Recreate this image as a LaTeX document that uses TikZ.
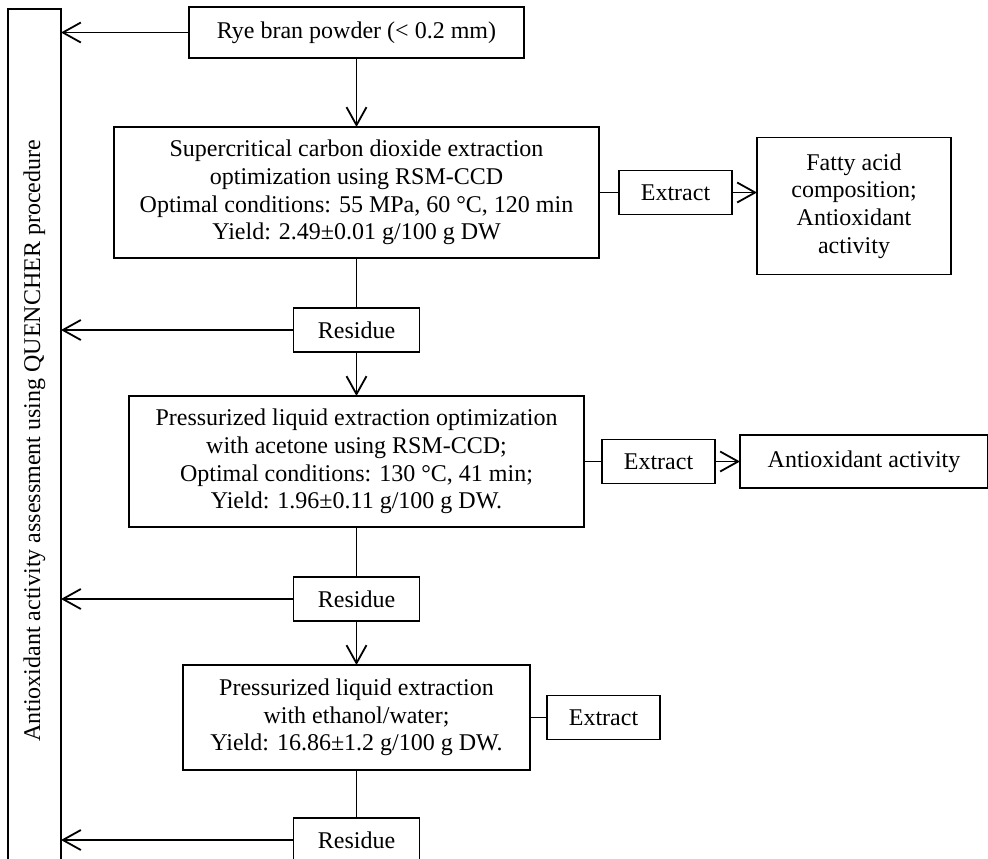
\documentclass[tikz,border=0pt]{standalone}
\usepackage{fontspec}
\setmainfont{Liberation Serif}
\usetikzlibrary{positioning, arrows.meta}

\begin{document}
\begin{tikzpicture}[
				x=0.5pt, y=-0.5pt,
				node distance=22pt and 10pt,
				mybox/.style={
					draw,
					rectangle,
					line width=0.9pt,
					outer sep=0pt,
					align=center,
					inner sep=2pt,
					font=\fontsize{12}{13.8}\selectfont
				},
				smallbox/.style={
					mybox,
					minimum width=56.5pt,
					minimum height=22pt
				},
				arrow/.style={
					->,
					line width=0.9pt,
					>={Straight Barb[length=9pt,width=10pt]}
				},
				line/.style={
					line width=0.9pt
				}
				]
				\useasboundingbox (0,0) rectangle (988,858);
				\clip (0,0) rectangle (988,858);
				\node[mybox, rotate=90, minimum width=432pt, minimum height=26.5pt] (quench) at (34.5,441) {Antioxidant activity assessment using QUENCHER procedure};
				\node[mybox, minimum width=167.5pt, minimum height=25.5pt] (rye) at (356.5,32.5) {Rye bran powder (< 0.2 mm)};
				\node[mybox, below=34.5pt of rye, minimum width=242.5pt, minimum height=65.5pt] (sce) {Supercritical carbon dioxide extraction\\optimization using RSM-CCD\\Optimal conditions: 55 MPa, 60 °C, 120 min\\Yield: 2.49±0.01 g/100 g DW};
				\node[smallbox, right=10pt of sce] (ext1) {Extract};
				\node[mybox, right=12.5pt of ext1, yshift=-6.75pt, minimum width=97pt, minimum height=68.5pt] (fatty) {Fatty acid\\composition;\\Antioxidant\\activity};
				\node[smallbox, below=25pt of sce, minimum width=63pt] (res1) {Residue};
				\node[mybox, below=22pt of res1, minimum width=227.5pt, minimum height=65.5pt] (ple1) {Pressurized liquid extraction optimization\\with acetone using RSM-CCD;\\Optimal conditions: 130 °C, 41 min;\\Yield: 1.96±0.11 g/100 g DW.};
				\node[smallbox, right=9pt of ple1] (ext2) {Extract};
				\node[mybox, right=12.5pt of ext2, minimum width=124pt, minimum height=26.5pt] (antiox) {Antioxidant activity};
				\node[smallbox, below=25pt of ple1, minimum width=63pt] (res2) {Residue};
				\node[mybox, below=22pt of res2, minimum width=173.5pt, minimum height=52.5pt] (ple2) {Pressurized liquid extraction\\with ethanol/water;\\Yield: 16.86±1.2 g/100 g DW.};
				\node[smallbox, right=8.5pt of ple2] (ext3) {Extract};
				\node[smallbox, below=24pt of ple2, minimum width=63pt] (res3) {Residue};
				\draw[arrow] (rye.west) -- (rye.west -| quench.south);
				\draw[arrow] (rye) -- (sce);
				\draw[line] (sce) -- (ext1);
				\draw[arrow] (ext1.east) -- (ext1.east -| fatty.west);
				\draw[line] (sce) -- (res1);
				\draw[arrow] (res1.west) -- (res1.west -| quench.south);
				\draw[arrow] (res1) -- (ple1);
				\draw[line] (ple1) -- (ext2);
				\draw[arrow] (ext2) -- (antiox);
				\draw[line] (ple1) -- (res2);
				\draw[arrow] (res2.west) -- (res2.west -| quench.south);
				\draw[arrow] (res2) -- (ple2);
				\draw[line] (ple2) -- (ext3);
				\draw[line] (ple2) -- (res3);
				\draw[arrow] (res3.west) -- (res3.west -| quench.south);
			\end{tikzpicture}
\end{document}
